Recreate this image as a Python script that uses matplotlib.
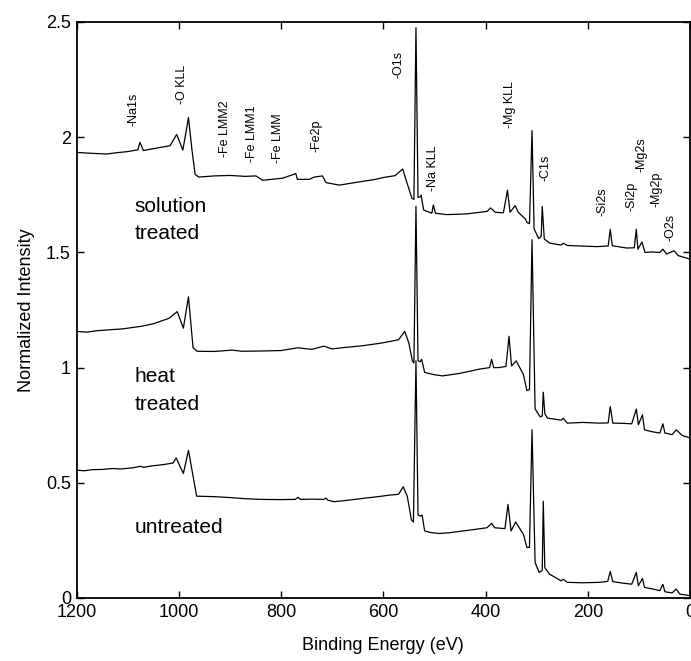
import matplotlib
matplotlib.use("Agg")
import matplotlib.pyplot as plt

plt.rcParams['font.family'] = ['Liberation Sans', 'DejaVu Sans']

# ---- data (binding energy in eV, normalized intensity) ----
untreated_E = [1200, 1185, 1170, 1150, 1130, 1113, 1090, 1074, 1070, 1050, 1030, 1011, 1005, 991,
               981, 972, 965, 950, 932, 900, 870, 838, 800, 772, 767, 762, 740, 716, 712, 708,
               696, 670, 641, 610, 586, 570, 561, 553, 545, 541, 536, 532, 527, 524, 519, 507,
               490, 468, 444, 420, 397, 388, 382, 362, 356, 350, 341, 334, 326, 319, 314, 309,
               303, 295, 289, 287, 284, 275, 252, 248, 240, 210, 177, 161, 156, 151, 130, 114,
               105, 101, 93, 89, 75, 59, 53, 49, 35, 27, 20, 0]
untreated_I = [0.555, 0.552, 0.557, 0.558, 0.562, 0.560, 0.565, 0.572, 0.567, 0.574, 0.579, 0.586,
               0.608, 0.540, 0.641, 0.529, 0.442, 0.441, 0.440, 0.436, 0.431, 0.428, 0.427, 0.428,
               0.437, 0.428, 0.429, 0.428, 0.434, 0.424, 0.418, 0.424, 0.432, 0.440, 0.447, 0.450,
               0.483, 0.442, 0.340, 0.330, 1.030, 0.360, 0.355, 0.360, 0.291, 0.284, 0.280, 0.284,
               0.291, 0.298, 0.305, 0.324, 0.305, 0.301, 0.406, 0.291, 0.330, 0.305, 0.277, 0.219,
               0.220, 0.730, 0.154, 0.111, 0.120, 0.420, 0.132, 0.104, 0.074, 0.082, 0.068, 0.066,
               0.068, 0.072, 0.115, 0.071, 0.064, 0.060, 0.111, 0.053, 0.085, 0.046, 0.040, 0.032,
               0.059, 0.027, 0.022, 0.039, 0.017, 0.010]

heat_E = [1200, 1180, 1160, 1137, 1110, 1074, 1050, 1019, 1003, 991, 981, 972, 964, 930, 896,
          877, 840, 800, 767, 740, 716, 700, 681, 640, 602, 570, 558, 550, 543, 540, 536, 532,
          528, 525, 519, 500, 484, 450, 413, 392, 388, 384, 374, 360, 354, 349, 340, 326, 319,
          314, 309, 303, 293, 289, 287, 284, 279, 252, 248, 240, 210, 177, 160, 156, 151, 130,
          114, 105, 101, 93, 89, 75, 59, 53, 49, 35, 27, 15, 0]
heat_I = [1.157, 1.154, 1.160, 1.164, 1.168, 1.179, 1.190, 1.214, 1.243, 1.171, 1.307, 1.086,
          1.071, 1.070, 1.076, 1.071, 1.072, 1.074, 1.086, 1.079, 1.093, 1.081, 1.086, 1.095,
          1.107, 1.121, 1.157, 1.107, 1.029, 1.020, 1.700, 1.030, 1.025, 1.036, 0.979, 0.969,
          0.964, 0.975, 0.993, 1.000, 1.036, 1.000, 1.000, 1.005, 1.136, 1.007, 1.029, 0.971,
          0.900, 0.905, 1.555, 0.821, 0.786, 0.790, 0.893, 0.800, 0.781, 0.772, 0.780, 0.759,
          0.762, 0.759, 0.760, 0.831, 0.759, 0.758, 0.756, 0.820, 0.752, 0.795, 0.730, 0.722,
          0.716, 0.756, 0.716, 0.709, 0.730, 0.705, 0.695]

solution_E = [1200, 1170, 1141, 1120, 1102, 1080, 1076, 1069, 1043, 1017, 1004, 992, 981, 974,
              968, 961, 930, 900, 870, 849, 836, 797, 771, 768, 745, 735, 719, 712, 686, 650,
              615, 600, 577, 562, 555, 544, 540, 536, 532, 528, 526, 521, 505, 502, 498, 476,
              437, 397, 390, 381, 365, 357, 352, 342, 336, 322, 319, 314, 309, 305, 296, 291,
              289, 285, 274, 252, 248, 240, 182, 160, 156, 152, 124, 109, 105, 102, 94, 88, 75,
              59, 53, 46, 31, 23, 0]
solution_I = [1.934, 1.930, 1.927, 1.933, 1.937, 1.945, 1.978, 1.942, 1.953, 1.963, 2.012, 1.944,
              2.085, 1.942, 1.839, 1.827, 1.832, 1.834, 1.830, 1.832, 1.813, 1.822, 1.842, 1.817,
              1.817, 1.827, 1.832, 1.803, 1.792, 1.805, 1.817, 1.825, 1.833, 1.862, 1.812, 1.735,
              1.730, 2.475, 1.739, 1.740, 1.749, 1.684, 1.670, 1.706, 1.670, 1.664, 1.667, 1.678,
              1.693, 1.674, 1.672, 1.770, 1.674, 1.703, 1.674, 1.645, 1.630, 1.625, 2.029, 1.603,
              1.560, 1.570, 1.700, 1.558, 1.540, 1.532, 1.540, 1.530, 1.525, 1.528, 1.600, 1.529,
              1.519, 1.520, 1.600, 1.514, 1.545, 1.500, 1.502, 1.500, 1.514, 1.493, 1.507, 1.486,
              1.471]

peak_labels = ['-Na1s', '-O KLL', '-Fe LMM2', '-Fe LMM1', '-Fe LMM', '-Fe2p', '-O1s', '-Na KLL',
               '-Mg KLL', '-C1s', '-Si2s', '-Si2p', '-Mg2s', '-Mg2p', '-O2s']
peak_label_E = [1089, 993, 909, 857, 805, 730, 570, 503, 352, 283, 171, 114, 94, 66, 39]
peak_label_I = [2.050, 2.142, 1.913, 1.891, 1.887, 1.935, 2.258, 1.768, 2.040, 1.812, 1.659,
                1.678, 1.848, 1.699, 1.551]

sample_texts = ['solution', 'treated', 'heat', 'treated', 'untreated']
sample_text_I = [1.70, 1.58, 0.96, 0.84, 0.305]
sample_text_E = 1086

x_ticks = [1200, 1000, 800, 600, 400, 200, 0]
y_ticks = [0, 0.5, 1, 1.5, 2, 2.5]
y_tick_labels = ['0', '0.5', '1', '1.5', '2', '2.5']

# ---- figure ----
fig = plt.figure(figsize=(6.91, 6.61), dpi=100)
ax = fig.add_axes([76.5 / 691, 63 / 661, 613.5 / 691, 576 / 661])

for E, I in [(untreated_E, untreated_I), (heat_E, heat_I), (solution_E, solution_I)]:
    ax.plot(E, I, color='black', lw=0.9)

for lab, e, i in zip(peak_labels, peak_label_E, peak_label_I):
    ax.text(e, i, lab, rotation=90, ha='center', va='bottom', fontsize=9)

for t, i in zip(sample_texts, sample_text_I):
    ax.text(sample_text_E, i, t, ha='left', va='center', fontsize=15)

ax.set_xlim(1200, 0)
ax.set_ylim(0, 2.5)
ax.set_xticks(x_ticks)
ax.set_xticklabels([str(v) for v in x_ticks])
ax.set_yticks(y_ticks)
ax.set_yticklabels(y_tick_labels)
ax.tick_params(direction='in', top=True, right=True, length=5, width=1, labelsize=13, pad=4)
for s in ax.spines.values():
    s.set_linewidth(1.3)
ax.set_xlabel('Binding Energy (eV)', fontsize=13, labelpad=12)
ax.set_ylabel('Normalized Intensity', fontsize=13, labelpad=8)

fig.savefig('out.png', dpi=100)
